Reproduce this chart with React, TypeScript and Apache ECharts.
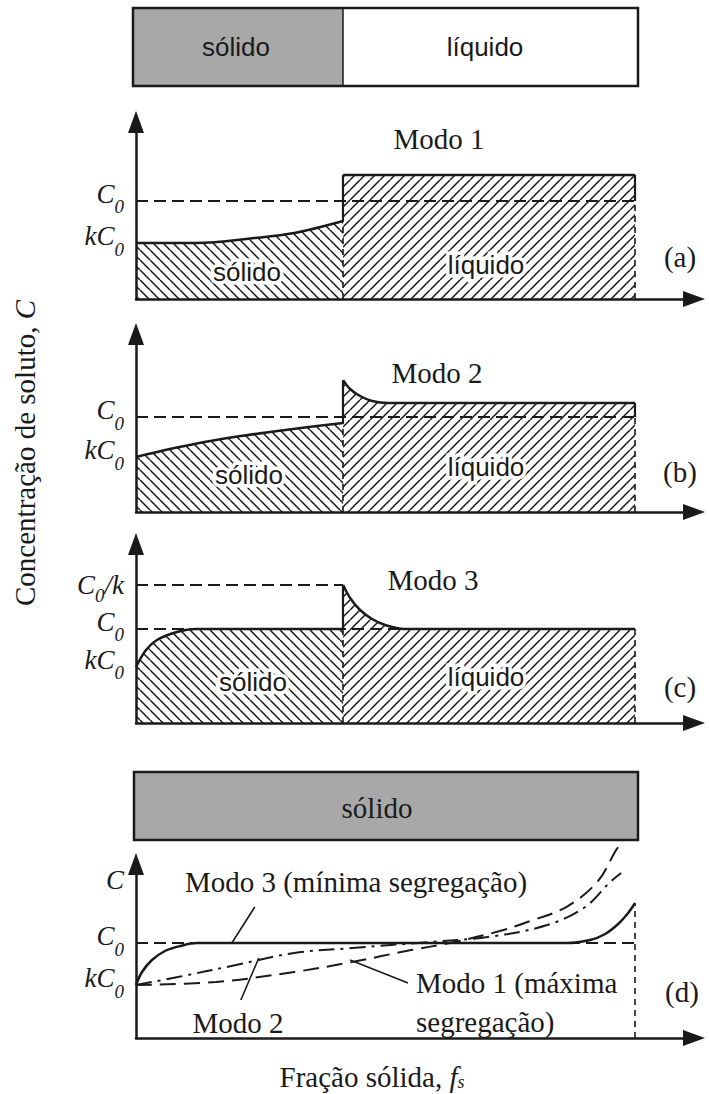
import React, { useEffect, useRef } from 'react';
import * as echarts from 'echarts';

// ---------------- data (x = fração sólida fs, y = concentração relativa a C0) ----------------
const X_INTERFACE = 0.415; // interface sólido/líquido nos painéis a–c
const X_END = 1.0;
const X_AXIS_MAX = 1.118;

// (a) Modo 1
const A_Y_MAX = 1.806;
const A_TICKS = [0.571, 1.0];
const A_TICK_LABELS = ['kC0', 'C0'];
const A_SOLID_FS = [0, 0.12, 0.238, 0.317, 0.415];
const A_SOLID_C = [0.571, 0.571, 0.622, 0.673, 0.796];
const A_LIQUID_FS = [0.415, 1.0];
const A_LIQUID_C = [1.265, 1.265];

// (b) Modo 2
const B_Y_MAX = 1.874;
const B_TICKS = [0.579, 1.0];
const B_TICK_LABELS = ['kC0', 'C0'];
const B_SOLID_FS = [0, 0.07, 0.14, 0.21, 0.28, 0.35, 0.415];
const B_SOLID_C = [0.579, 0.665, 0.74, 0.8, 0.85, 0.898, 0.937];
const B_LIQUID_FS = [0.415, 0.429, 0.449, 0.473, 0.505, 1.0];
const B_LIQUID_C = [1.389, 1.295, 1.221, 1.168, 1.147, 1.147];

// (c) Modo 3
const C_Y_MAX = 1.904;
const C_TICKS = [0.596, 1.0, 1.468];
const C_TICK_LABELS = ['kC0', 'C0', 'C0/k'];
const C_SOLID_FS = [0, 0.02, 0.042, 0.082, 0.12, 0.415];
const C_SOLID_C = [0.596, 0.777, 0.883, 0.968, 1.0, 1.0];
const C_LIQUID_FS = [0.415, 0.429, 0.449, 0.473, 0.499, 0.537, 1.0];
const C_LIQUID_C = [1.468, 1.33, 1.202, 1.106, 1.043, 1.0, 1.0];

// (d) comparação
const D_Y_MAX = 1.832;
const D_TICKS = [0.558, 1.0, 1.663];
const D_TICK_LABELS = ['kC0', 'C0', 'C'];
const D_MODO3_FS = [0, 0.012, 0.032, 0.058, 0.088, 0.122, 0.862, 0.91, 0.94, 0.966, 0.986, 1.0];
const D_MODO3_C = [0.558, 0.695, 0.821, 0.916, 0.968, 1.0, 1.0, 1.032, 1.095, 1.2, 1.316, 1.421];
const D_MODO1_FS = [0, 0.16, 0.317, 0.433, 0.551, 0.629, 0.729, 0.784, 0.862, 0.924, 0.962, 0.972];
const D_MODO1_C = [0.558, 0.589, 0.695, 0.8, 0.926, 1.0, 1.126, 1.221, 1.379, 1.642, 1.979, 2.053];
const D_MODO2_FS = [0, 0.084, 0.2, 0.317, 0.433, 0.589, 0.705, 0.824, 0.9, 0.948, 0.972];
const D_MODO2_C = [0.558, 0.642, 0.768, 0.895, 0.947, 1.011, 1.063, 1.189, 1.379, 1.632, 1.737];
// leader lines (from -> to) in data units
const D_LEADER_MODO3 = [[0.238, 1.379], [0.192, 1.0]];
const D_LEADER_MODO2 = [[0.21, 0.4], [0.246, 0.842]];
const D_LEADER_MODO1 = [[0.545, 0.579], [0.429, 0.821]];

// ---------------- styles ----------------
const SERIF = '"Liberation Serif", "Times New Roman", serif';
const SANS = '"Liberation Sans", Arial, sans-serif';
const INK = '#1a1a1a';
const GRAY = '#a8a8a8';

const zip = (xs: number[], ys: number[]) => xs.map((x, i) => [x, ys[i]]);

function hatch(dir: 'back' | 'fwd') {
  const c = document.createElement('canvas');
  c.width = 10;
  c.height = 10;
  const ctx = c.getContext('2d')!;
  ctx.strokeStyle = INK;
  ctx.lineWidth = 1.5;
  ctx.beginPath();
  for (const o of [-10, 0, 10]) {
    if (dir === 'back') {
      ctx.moveTo(o, 0);
      ctx.lineTo(o + 10, 10);
    } else {
      ctx.moveTo(o + 10, 0);
      ctx.lineTo(o, 10);
    }
  }
  ctx.stroke();
  return { image: c, repeat: 'repeat', imageWidth: 10, imageHeight: 10 } as any;
}

const LABEL_RICH_TEXT: Record<string, string> = {
  kC0: '{c|kC}{s|0}',
  C0: '{c|C}{s|0}',
  'C0/k': '{c2|C}{s2|0}{c2|/k}',
  C: '{p|C}',
};

const tickRich = {
  c: { fontFamily: SERIF, fontStyle: 'italic', fontSize: 27, fill: INK, lineHeight: 20, padding: [0, 0, 14, 0] },
  s: { fontFamily: SERIF, fontStyle: 'italic', fontSize: 19, fill: INK, lineHeight: 16, padding: [12, 0, 0, 0] },
  c2: { fontFamily: SERIF, fontStyle: 'italic', fontSize: 27, fill: INK, lineHeight: 20 },
  s2: { fontFamily: SERIF, fontStyle: 'italic', fontSize: 19, fill: INK, lineHeight: 14, padding: [22, 0, 0, 0] },
  p: { fontFamily: SERIF, fontStyle: 'italic', fontSize: 27, fill: INK, lineHeight: 20 },
};

const GRIDS = [
  { left: 136, top: 122, width: 558, height: 177 },
  { left: 136, top: 334, width: 558, height: 178 },
  { left: 136, top: 544, width: 558, height: 179 },
  { left: 136, top: 864, width: 558, height: 174 },
];

const PANEL_TICKS = [
  [A_TICKS, A_TICK_LABELS],
  [B_TICKS, B_TICK_LABELS],
  [C_TICKS, C_TICK_LABELS],
  [D_TICKS, D_TICK_LABELS],
] as [number[], string[]][];

function axes(i: number, yMax: number) {
  const line = {
    show: true,
    onZero: false,
    lineStyle: { color: INK, width: 2.5 },
    symbol: ['none', 'triangle'],
    symbolSize: [16, 22],
  };
  return {
    x: {
      gridIndex: i, type: 'value', min: 0, max: X_AXIS_MAX,
      axisLine: line, axisTick: { show: false }, axisLabel: { show: false }, splitLine: { show: false },
    },
    y: {
      gridIndex: i, type: 'value', min: 0, max: yMax,
      axisLine: line, axisTick: { show: false }, splitLine: { show: false }, axisLabel: { show: false },
    },
  };
}

const seg = (p: number[], q: number[], type: any, width = 2) => [
  { coord: p, lineStyle: { type, width, color: INK } },
  { coord: q },
];

const DASH = [12, 6];
const VDASH = [6, 5];

function hatchedPanel(
  i: number, solidFs: number[], solidC: number[], liquidFs: number[], liquidC: number[],
  extraSolidMarks: any[], liquidMarks: any[]
) {
  const solidEnd = solidC[solidC.length - 1];
  return [
    {
      type: 'line', xAxisIndex: i, yAxisIndex: i, data: zip(solidFs, solidC), smooth: 0.35,
      symbol: 'none', lineStyle: { color: INK, width: 2.5 },
      areaStyle: { color: hatch('back'), opacity: 1 }, z: 2,
      markLine: {
        silent: true, symbol: ['none', 'none'], label: { show: false }, animation: false,
        data: [
          seg([0, 1.0], [X_END, 1.0], DASH),
          seg([X_INTERFACE, 0], [X_INTERFACE, solidEnd], VDASH, 1.6),
          ...extraSolidMarks,
        ],
      },
    },
    {
      type: 'line', xAxisIndex: i, yAxisIndex: i, data: zip(liquidFs, liquidC), smooth: 0.35,
      symbol: 'none', lineStyle: { color: INK, width: 2.5 },
      areaStyle: { color: hatch('fwd'), opacity: 1 }, z: 2,
      markLine: {
        silent: true, symbol: ['none', 'none'], label: { show: false }, animation: false,
        data: [
          seg([X_INTERFACE, solidEnd], [X_INTERFACE, liquidC[0]], 'solid', 2.2),
          ...liquidMarks,
        ],
      },
    },
  ];
}

function text(x: number, y: number, t: string, font: string, extra: any = {}) {
  return {
    type: 'text', x, y, z: 100,
    style: { text: t, font, fill: INK, align: 'center', verticalAlign: 'middle', ...extra },
  };
}

export default function App() {
  const ref = useRef<HTMLDivElement>(null);
  useEffect(() => {
    if (!ref.current) return;
    const chart = echarts.init(ref.current, undefined, { renderer: 'svg' });
    const ax = [axes(0, A_Y_MAX), axes(1, B_Y_MAX), axes(2, C_Y_MAX), axes(3, D_Y_MAX)];
    const aLiq = A_LIQUID_C[A_LIQUID_C.length - 1];
    const bLiq = B_LIQUID_C[B_LIQUID_C.length - 1];
    const series: any[] = [
      ...hatchedPanel(0, A_SOLID_FS, A_SOLID_C, A_LIQUID_FS, A_LIQUID_C, [], [
        seg([X_END, 1.0], [X_END, aLiq], 'solid', 2.2),
        seg([X_END, 0], [X_END, 1.0], VDASH, 1.6),
      ]),
      ...hatchedPanel(1, B_SOLID_FS, B_SOLID_C, B_LIQUID_FS, B_LIQUID_C, [], [
        seg([X_END, 1.0], [X_END, bLiq], 'solid', 2.2),
        seg([X_END, 0], [X_END, 1.0], VDASH, 1.6),
      ]),
      ...hatchedPanel(2, C_SOLID_FS, C_SOLID_C, C_LIQUID_FS, C_LIQUID_C, [
        seg([0, C_TICKS[2]], [X_INTERFACE, C_TICKS[2]], DASH),
      ], [
        seg([X_END, 0], [X_END, 1.0], VDASH, 1.6),
      ]),
      {
        type: 'line', xAxisIndex: 3, yAxisIndex: 3, data: zip(D_MODO3_FS, D_MODO3_C), smooth: 0.35,
        symbol: 'none', lineStyle: { color: INK, width: 2.5 }, z: 3,
        markLine: {
          silent: true, symbol: ['none', 'none'], label: { show: false }, animation: false,
          data: [
            seg([0, 1.0], [X_END, 1.0], DASH),
            seg([X_END, 0], [X_END, D_MODO3_C[D_MODO3_C.length - 1]], VDASH, 1.6),
            seg(D_LEADER_MODO3[0], D_LEADER_MODO3[1], 'solid', 1.6),
            seg(D_LEADER_MODO2[0], D_LEADER_MODO2[1], 'solid', 1.6),
            seg(D_LEADER_MODO1[0], D_LEADER_MODO1[1], 'solid', 1.6),
          ],
        },
      },
      {
        type: 'line', xAxisIndex: 3, yAxisIndex: 3, data: zip(D_MODO1_FS, D_MODO1_C), smooth: 0.35,
        symbol: 'none', clip: false, lineStyle: { color: INK, width: 2, type: [16, 8] }, z: 3,
      },
      {
        type: 'line', xAxisIndex: 3, yAxisIndex: 3, data: zip(D_MODO2_FS, D_MODO2_C), smooth: 0.35,
        symbol: 'none', lineStyle: { color: INK, width: 2, type: [16, 6, 3, 6] }, z: 3,
      },
    ];

    const sans = `26px ${SANS}`;
    const serif = `29px ${SERIF}`;
    const halo = { stroke: '#fff', lineWidth: 7 };

    const graphic: any[] = [
      // top bar
      { type: 'rect', shape: { x: 133, y: 8, width: 210, height: 78 }, style: { fill: GRAY }, z: 10 },
      { type: 'rect', shape: { x: 133, y: 8, width: 505, height: 78 }, style: { fill: 'none', stroke: INK, lineWidth: 2.5 }, z: 11 },
      { type: 'line', shape: { x1: 343, y1: 8, x2: 343, y2: 86 }, style: { stroke: INK, lineWidth: 1.5 }, z: 11 },
      text(236, 47, 'sólido', sans),
      text(485, 47, 'líquido', sans),
      // panel titles
      text(439, 139, 'Modo 1', serif),
      text(437, 373, 'Modo 2', serif),
      text(433, 580, 'Modo 3', serif),
      text(680, 257, '(a)', serif),
      text(680, 472, '(b)', serif),
      text(680, 687, '(c)', serif),
      text(682, 992, '(d)', serif),
      // hatched labels
      text(247, 272, 'sólido', sans, halo),
      text(486, 265, 'líquido', sans, halo),
      text(249, 475, 'sólido', sans, halo),
      text(486, 467, 'líquido', sans, halo),
      text(253, 682, 'sólido', sans, halo),
      text(486, 677, 'líquido', sans, halo),
      // bottom bar
      { type: 'rect', shape: { x: 134, y: 772, width: 504, height: 68 }, style: { fill: GRAY, stroke: INK, lineWidth: 2.5 }, z: 10 },
      text(377, 808, 'sólido', serif),
      // annotations panel d
      text(356, 882, 'Modo 3 (mínima segregação)', serif),
      text(238, 1023, 'Modo 2', serif),
      text(416, 983, 'Modo 1 (máxima', serif, { align: 'left' }),
      text(416, 1022, 'segregação)', serif, { align: 'left' }),
      // axis titles
      {
        type: 'text', x: 25, y: 453, rotation: Math.PI / 2, z: 100,
        style: {
          text: '{n|Concentração de soluto, }{i|C}', align: 'center', verticalAlign: 'middle', fill: INK,
          rich: {
            n: { fontFamily: SERIF, fontSize: 29, fill: INK },
            i: { fontFamily: SERIF, fontSize: 29, fontStyle: 'italic', fill: INK },
          },
        },
      },
      {
        type: 'text', x: 372, y: 1077, z: 100,
        style: {
          text: '{n|Fração sólida, }{i|f}{s|s}', align: 'center', verticalAlign: 'middle', fill: INK,
          rich: {
            n: { fontFamily: SERIF, fontSize: 29, fill: INK, lineHeight: 22 },
            i: { fontFamily: SERIF, fontSize: 29, fontStyle: 'italic', fill: INK, lineHeight: 22 },
            s: { fontFamily: SERIF, fontSize: 18, fontStyle: 'italic', fill: INK, lineHeight: 12, padding: [10, 0, 0, 0] },
          },
        },
      },
    ];

    chart.setOption({
      animation: false,
      backgroundColor: '#fff',
      grid: GRIDS.map((g) => ({ ...g, containLabel: false, outerBoundsMode: 'none' })),
      xAxis: ax.map((a) => a.x),
      yAxis: ax.map((a) => a.y),
      series,
      graphic,
    } as any);

    // y-axis tick labels (C0, kC0, C0/k, C), positioned through each panel's own axis scale
    const tickTexts: any[] = [];
    PANEL_TICKS.forEach(([ticks, labels], gi) => {
      ticks.forEach((v, k) => {
        const p = chart.convertToPixel({ gridIndex: gi } as any, [0, v]) as number[];
        tickTexts.push({
          type: 'text', x: p[0] - 12, y: p[1], z: 100,
          style: {
            text: LABEL_RICH_TEXT[labels[k]], align: 'right', verticalAlign: 'middle', fill: INK,
            rich: tickRich,
          },
        });
      });
    });
    chart.setOption({ graphic: [...graphic, ...tickTexts] } as any);
    return () => chart.dispose();
  }, []);
  return (
    <div
      ref={ref}
      style={{ position: 'absolute', left: 0, top: 0, width: 709, height: 1094, background: '#fff' }}
    />
  );
}
